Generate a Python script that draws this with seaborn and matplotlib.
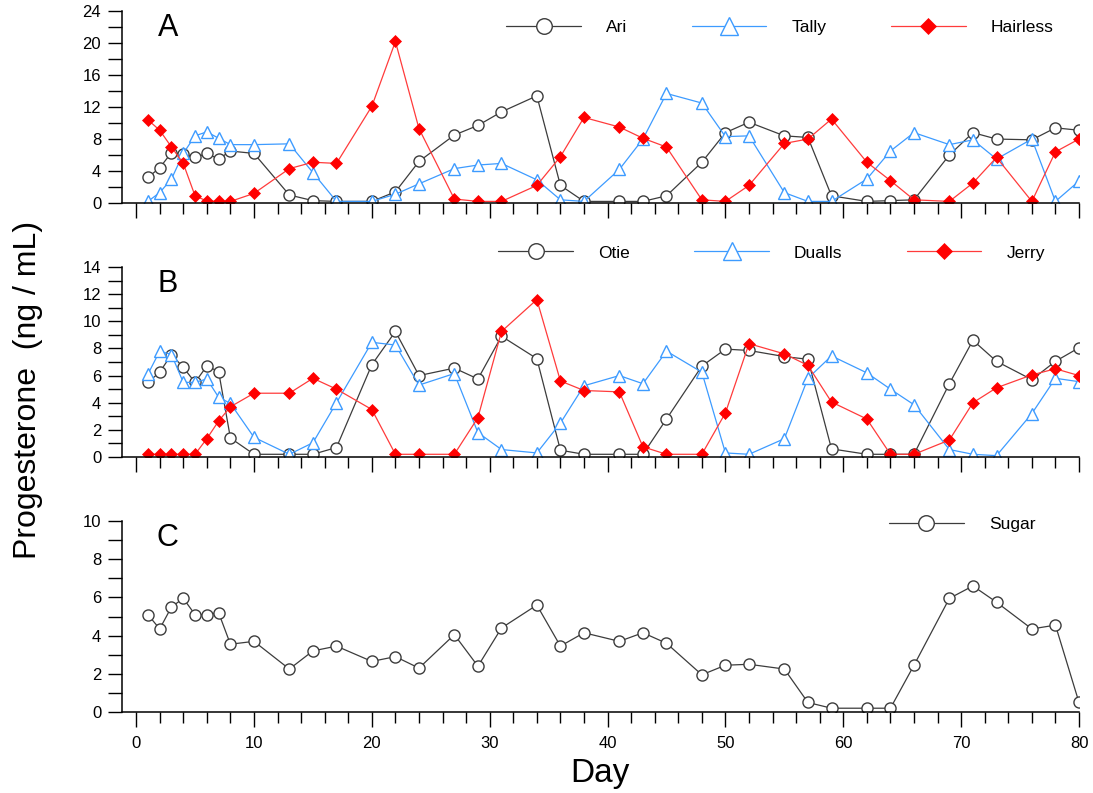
# Progesterone profiles for the three panels (A, B, C) over 80 days
import matplotlib
matplotlib.use("Agg")
import matplotlib.pyplot as plt
from matplotlib.ticker import MultipleLocator
import seaborn as sns

# sampling days (same for every animal)
days = [1, 2, 3, 4, 5, 6, 7, 8, 10, 13, 15, 17, 20, 22, 24, 27, 29, 31, 34, 36,
        38, 41, 43, 45, 48, 50, 52, 55, 57, 59, 62, 64, 66, 69, 71, 73, 76, 78, 80]

# panel A
ari = [3.2, 4.4, 6.3, 6.1, 5.7, 6.2, 5.5, 6.5, 6.2, 1.0, 0.3, 0.2, 0.2, 1.4, 5.2,
       8.5, 9.7, 11.4, 13.4, 2.2, 0.2, 0.2, 0.2, 0.9, 5.1, 8.8, 10.1, 8.4, 8.2,
       0.9, 0.2, 0.3, 0.4, 6.0, 8.8, 8.0, 7.9, 9.4, 9.1]
tally = [0.2, 1.3, 3.0, 6.2, 8.4, 8.9, 8.1, 7.3, 7.3, 7.4, 3.8, 0.2, 0.2, 1.1, 2.4,
         4.3, 4.75, 4.95, 2.9, 0.4, 0.2, 4.2, 8.0, 13.7, 12.5, 8.3, 8.4, 1.3, 0.2,
         0.2, 3.0, 6.5, 8.8, 7.3, 7.9, 5.5, 8.0, 0.2, 2.75]
hairless = [10.4, 9.1, 7.0, 4.95, 0.9, 0.25, 0.2, 0.2, 1.2, 4.3, 5.1, 4.95, 12.1,
            20.2, 9.3, 0.5, 0.2, 0.2, 2.2, 5.8, 10.7, 9.5, 8.1, 7.0, 0.4, 0.2, 2.2,
            7.45, 8.0, 10.5, 5.1, 2.8, 0.4, 0.2, 2.5, 5.7, 0.2, 6.4, 8.0]

# panel B
otie = [5.5, 6.25, 7.55, 6.6, 5.5, 6.7, 6.3, 1.4, 0.2, 0.2, 0.2, 0.7, 6.8, 9.25,
        6.0, 6.55, 5.75, 8.9, 7.25, 0.5, 0.2, 0.2, 0.2, 2.8, 6.7, 7.95, 7.85, 7.4,
        7.2, 0.6, 0.2, 0.2, 0.2, 5.4, 8.6, 7.05, 5.7, 7.05, 8.05]
dualls = [6.1, 7.8, 7.55, 5.5, 5.5, 5.75, 4.4, 3.95, 1.45, 0.2, 1.05, 4.0, 8.45,
          8.25, 5.3, 6.15, 1.8, 0.55, 0.3, 2.5, 5.25, 6.0, 5.4, 7.8, 6.25, 0.3,
          0.2, 1.35, 5.8, 7.45, 6.2, 5.0, 3.85, 0.55, 0.2, 0.1, 3.2, 5.8, 5.55]
jerry = [0.2, 0.2, 0.2, 0.2, 0.2, 1.35, 2.65, 3.7, 4.7, 4.7, 5.8, 5.0, 3.5, 0.2,
         0.2, 0.2, 2.9, 9.25, 11.6, 5.6, 4.9, 4.8, 0.75, 0.2, 0.2, 3.25, 8.35,
         7.6, 6.75, 4.05, 2.8, 0.2, 0.2, 1.25, 4.0, 5.1, 6.05, 6.5, 6.0]

# panel C
sugar = [5.1, 4.35, 5.5, 5.95, 5.1, 5.1, 5.2, 3.55, 3.7, 2.25, 3.2, 3.45, 2.65,
         2.9, 2.3, 4.05, 2.4, 4.4, 5.6, 3.45, 4.15, 3.7, 4.15, 3.6, 1.95, 2.45,
         2.5, 2.25, 0.5, 0.2, 0.2, 0.2, 2.45, 5.95, 6.6, 5.75, 4.35, 4.55, 0.5]

sns.set_style("ticks")
plt.rcParams["font.family"] = ["Liberation Sans", "DejaVu Sans"]
plt.rcParams["text.color"] = "black"
plt.rcParams["axes.labelcolor"] = "black"
plt.rcParams["xtick.color"] = "black"
plt.rcParams["ytick.color"] = "black"

BLACK = "#3c3c3c"
BLUE = "#3d9bff"
RED = "#ff3b3b"


def draw(ax, y, name, kind):
    if kind == "circle":
        sns.lineplot(x=days, y=y, ax=ax, color=BLACK, linewidth=0.9, label=name,
                     marker="o", markersize=8, markerfacecolor="white",
                     markeredgecolor=BLACK, markeredgewidth=1.0)
    elif kind == "triangle":
        sns.lineplot(x=days, y=y, ax=ax, color=BLUE, linewidth=0.9, label=name,
                     marker="^", markersize=9, markerfacecolor="white",
                     markeredgecolor=BLUE, markeredgewidth=1.0)
    else:
        sns.lineplot(x=days, y=y, ax=ax, color=RED, linewidth=0.9, label=name,
                     marker="D", markersize=6, markerfacecolor="#ff0000",
                     markeredgecolor="#ff0000", markeredgewidth=0.5)


fig = plt.figure(figsize=(10.93, 7.93), dpi=100)
left, width = 0.1116, 0.8756
ax_a = fig.add_axes([left, 0.744, width, 0.242])
ax_b = fig.add_axes([left, 0.4237, width, 0.2396])
ax_c = fig.add_axes([left, 0.1021, width, 0.2409])

draw(ax_a, ari, "Ari", "circle")
draw(ax_a, tally, "Tally", "triangle")
draw(ax_a, hairless, "Hairless", "diamond")

draw(ax_b, otie, "Otie", "circle")
draw(ax_b, dualls, "Dualls", "triangle")
draw(ax_b, jerry, "Jerry", "diamond")

draw(ax_c, sugar, "Sugar", "circle")

setup = [(ax_a, 24, 4, 2, "A", (0.6876, 0.917)),
         (ax_b, 14, 2, 1, "B", (0.679, 1.074)),
         (ax_c, 10, 2, 1, "C", (0.878, 0.98))]

for ax, ymax, ymaj, ymin, letter, leg_pos in setup:
    ax.set_xlim(-1.2, 80)
    ax.set_ylim(0, ymax)
    ax.yaxis.set_major_locator(MultipleLocator(ymaj))
    ax.yaxis.set_minor_locator(MultipleLocator(ymin))
    ax.xaxis.set_major_locator(MultipleLocator(10))
    ax.xaxis.set_minor_locator(MultipleLocator(2))
    ax.tick_params(axis="y", which="both", length=10, width=1, labelsize=12, pad=5)
    ax.tick_params(axis="x", which="major", length=11, width=1, labelsize=12, pad=6)
    ax.tick_params(axis="x", which="minor", length=8, width=1)
    ax.set_xlabel("")
    ax.set_ylabel("")
    for side in ["left", "bottom"]:
        ax.spines[side].set_linewidth(1.1)
        ax.spines[side].set_color("black")
    sns.despine(ax=ax)
    ax.text(0.048, 0.91, letter, transform=ax.transAxes, fontsize=22,
            ha="center", va="center")
    ax.legend(loc="center", bbox_to_anchor=leg_pos, ncol=3, frameon=False,
              fontsize=12.5, handlelength=4.3, handletextpad=1.45,
              columnspacing=3.7, markerscale=1.4)

ax_a.tick_params(axis="x", labelbottom=False)
ax_b.tick_params(axis="x", labelbottom=False)

fig.text(0.549, 0.025, "Day", ha="center", va="center", fontsize=24)
fig.text(0.026, 0.508, "Progesterone  (ng / mL)", rotation=90,
         ha="center", va="center", fontsize=23)

fig.savefig("out.png", dpi=100)
